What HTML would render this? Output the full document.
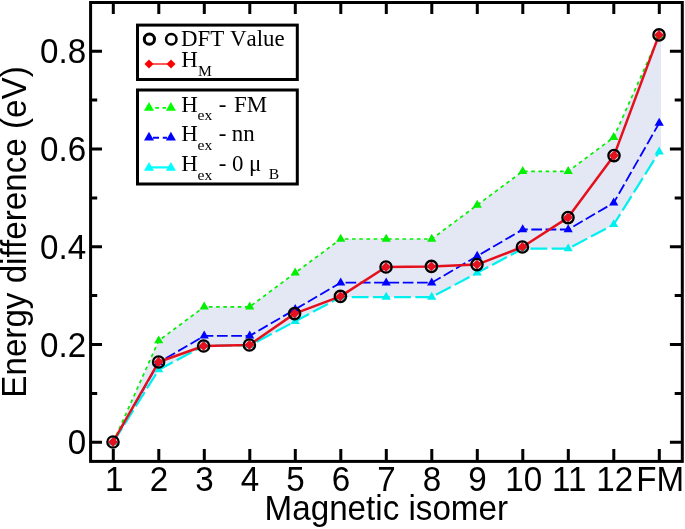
<!DOCTYPE html>
<html><head><meta charset="utf-8"><title>Energy difference vs magnetic isomer</title>
<style>html,body{margin:0;padding:0;background:#fff}svg{display:block}text{font-family:"Liberation Sans",sans-serif;fill:#000}.s{font-family:"Liberation Serif",serif;font-kerning:none}</style></head><body>
<svg width="685" height="529" viewBox="0 0 685 529">
<rect width="685" height="529" fill="#fff"/>
<polygon points="113.2,442.3 158.7,340.7 204.2,306.8 249.7,306.8 295.2,272.9 340.7,239.0 386.2,239.0 431.7,239.0 477.2,205.1 522.7,171.3 568.2,171.3 613.7,137.4 659.2,35.7 661.0,35.7 661.0,151.9 659.2,151.9 613.7,224.5 568.2,248.7 522.7,248.7 477.2,272.9 431.7,297.1 386.2,297.1 340.7,297.1 295.2,321.3 249.7,345.5 204.2,345.5 158.7,369.7 113.2,442.3" fill="#e3e8f4"/>
<polyline points="113.2,442.3 158.7,340.7 204.2,306.8 249.7,306.8 295.2,272.9 340.7,239.0 386.2,239.0 431.7,239.0 477.2,205.1 522.7,171.3 568.2,171.3 613.7,137.4 659.2,35.7" fill="none" stroke="#00f000" stroke-width="1.7" stroke-dasharray="3.6 3.6"/>
<g fill="#00f000"><path d="M113.2 437.0 L117.8 444.9 L108.6 444.9 Z"/><path d="M158.7 335.4 L163.3 343.3 L154.1 343.3 Z"/><path d="M204.2 301.5 L208.8 309.4 L199.6 309.4 Z"/><path d="M249.7 301.5 L254.3 309.4 L245.1 309.4 Z"/><path d="M295.2 267.6 L299.8 275.5 L290.6 275.5 Z"/><path d="M340.7 233.7 L345.3 241.7 L336.1 241.7 Z"/><path d="M386.2 233.7 L390.8 241.7 L381.6 241.7 Z"/><path d="M431.7 233.7 L436.3 241.7 L427.1 241.7 Z"/><path d="M477.2 199.8 L481.8 207.8 L472.6 207.8 Z"/><path d="M522.7 166.0 L527.3 173.9 L518.1 173.9 Z"/><path d="M568.2 166.0 L572.8 173.9 L563.6 173.9 Z"/><path d="M613.7 132.1 L618.3 140.0 L609.1 140.0 Z"/><path d="M659.2 30.4 L663.8 38.4 L654.6 38.4 Z"/></g>
<polyline points="113.2,442.3 158.7,362.5 204.2,335.9 249.7,335.9 295.2,309.3 340.7,282.7 386.2,282.7 431.7,282.7 477.2,256.1 522.7,229.5 568.2,229.5 613.7,202.9 659.2,123.1" fill="none" stroke="#0000ff" stroke-width="1.8" stroke-dasharray="10.7 3.6"/>
<g fill="#0000ff"><path d="M113.2 437.0 L117.8 444.9 L108.6 444.9 Z"/><path d="M158.7 357.2 L163.3 365.2 L154.1 365.2 Z"/><path d="M204.2 330.6 L208.8 338.6 L199.6 338.6 Z"/><path d="M249.7 330.6 L254.3 338.6 L245.1 338.6 Z"/><path d="M295.2 304.0 L299.8 312.0 L290.6 312.0 Z"/><path d="M340.7 277.4 L345.3 285.4 L336.1 285.4 Z"/><path d="M386.2 277.4 L390.8 285.4 L381.6 285.4 Z"/><path d="M431.7 277.4 L436.3 285.4 L427.1 285.4 Z"/><path d="M477.2 250.8 L481.8 258.8 L472.6 258.8 Z"/><path d="M522.7 224.2 L527.3 232.2 L518.1 232.2 Z"/><path d="M568.2 224.2 L572.8 232.2 L563.6 232.2 Z"/><path d="M613.7 197.6 L618.3 205.6 L609.1 205.6 Z"/><path d="M659.2 117.8 L663.8 125.8 L654.6 125.8 Z"/></g>
<polyline points="113.2,442.3 158.7,369.7 204.2,345.5 249.7,345.5 295.2,321.3 340.7,297.1 386.2,297.1 431.7,297.1 477.2,272.9 522.7,248.7 568.2,248.7 613.7,224.5 659.2,151.9" fill="none" stroke="#00f0f0" stroke-width="2.2" stroke-dasharray="16.8 4.4"/>
<g fill="#00f0f0"><path d="M113.2 437.0 L117.8 444.9 L108.6 444.9 Z"/><path d="M158.7 364.4 L163.3 372.3 L154.1 372.3 Z"/><path d="M204.2 340.2 L208.8 348.1 L199.6 348.1 Z"/><path d="M249.7 340.2 L254.3 348.1 L245.1 348.1 Z"/><path d="M295.2 316.0 L299.8 323.9 L290.6 323.9 Z"/><path d="M340.7 291.8 L345.3 299.7 L336.1 299.7 Z"/><path d="M386.2 291.8 L390.8 299.7 L381.6 299.7 Z"/><path d="M431.7 291.8 L436.3 299.7 L427.1 299.7 Z"/><path d="M477.2 267.6 L481.8 275.5 L472.6 275.5 Z"/><path d="M522.7 243.4 L527.3 251.3 L518.1 251.3 Z"/><path d="M568.2 243.4 L572.8 251.3 L563.6 251.3 Z"/><path d="M613.7 219.2 L618.3 227.1 L609.1 227.1 Z"/><path d="M659.2 146.6 L663.8 154.5 L654.6 154.5 Z"/></g>
<polyline points="113.0,442.0 158.6,362.0 203.6,346.0 249.4,345.0 294.6,313.6 340.4,296.4 386.0,267.0 431.4,266.4 477.0,264.6 522.4,247.0 568.0,217.6 614.0,155.6 659.0,34.9" fill="none" stroke="#e5101d" stroke-width="2.5" stroke-linejoin="round"/>
<g fill="#e5101d"><path d="M113.0 437.1 L117.9 442.0 L113.0 446.9 L108.1 442.0 Z"/><path d="M158.6 357.1 L163.5 362.0 L158.6 366.9 L153.7 362.0 Z"/><path d="M203.6 341.1 L208.5 346.0 L203.6 350.9 L198.7 346.0 Z"/><path d="M249.4 340.1 L254.3 345.0 L249.4 349.9 L244.5 345.0 Z"/><path d="M294.6 308.7 L299.5 313.6 L294.6 318.5 L289.7 313.6 Z"/><path d="M340.4 291.5 L345.3 296.4 L340.4 301.3 L335.5 296.4 Z"/><path d="M386.0 262.1 L390.9 267.0 L386.0 271.9 L381.1 267.0 Z"/><path d="M431.4 261.5 L436.3 266.4 L431.4 271.3 L426.5 266.4 Z"/><path d="M477.0 259.7 L481.9 264.6 L477.0 269.5 L472.1 264.6 Z"/><path d="M522.4 242.1 L527.3 247.0 L522.4 251.9 L517.5 247.0 Z"/><path d="M568.0 212.7 L572.9 217.6 L568.0 222.5 L563.1 217.6 Z"/><path d="M614.0 150.7 L618.9 155.6 L614.0 160.5 L609.1 155.6 Z"/><path d="M659.0 30.0 L663.9 34.9 L659.0 39.8 L654.1 34.9 Z"/></g>
<g fill="none" stroke="#000" stroke-width="2.3"><circle cx="113.0" cy="442.0" r="5.65"/><circle cx="158.6" cy="362.0" r="5.65"/><circle cx="203.6" cy="346.0" r="5.65"/><circle cx="249.4" cy="345.0" r="5.65"/><circle cx="294.6" cy="313.6" r="5.65"/><circle cx="340.4" cy="296.4" r="5.65"/><circle cx="386.0" cy="267.0" r="5.65"/><circle cx="431.4" cy="266.4" r="5.65"/><circle cx="477.0" cy="264.6" r="5.65"/><circle cx="522.4" cy="247.0" r="5.65"/><circle cx="568.0" cy="217.6" r="5.65"/><circle cx="614.0" cy="155.6" r="5.65"/><circle cx="659.0" cy="34.9" r="5.65"/></g>
<path d="M113.3 461.4 V449.0 M113.3 2.5 V14.0 M158.8 461.4 V449.0 M158.8 2.5 V14.0 M204.3 461.4 V449.0 M204.3 2.5 V14.0 M249.8 461.4 V449.0 M249.8 2.5 V14.0 M295.3 461.4 V449.0 M295.3 2.5 V14.0 M340.8 461.4 V449.0 M340.8 2.5 V14.0 M386.3 461.4 V449.0 M386.3 2.5 V14.0 M431.8 461.4 V449.0 M431.8 2.5 V14.0 M477.3 461.4 V449.0 M477.3 2.5 V14.0 M522.8 461.4 V449.0 M522.8 2.5 V14.0 M568.3 461.4 V449.0 M568.3 2.5 V14.0 M613.8 461.4 V449.0 M613.8 2.5 V14.0 M659.3 461.4 V449.0 M659.3 2.5 V14.0 M90.6 442.3 H102.0 M682.3 442.3 H669.9 M90.6 393.4 H97.2 M682.3 393.4 H674.7 M90.6 344.5 H102.0 M682.3 344.5 H669.9 M90.6 295.6 H97.2 M682.3 295.6 H674.7 M90.6 246.7 H102.0 M682.3 246.7 H669.9 M90.6 197.9 H97.2 M682.3 197.9 H674.7 M90.6 149.0 H102.0 M682.3 149.0 H669.9 M90.6 100.1 H97.2 M682.3 100.1 H674.7 M90.6 51.2 H102.0 M682.3 51.2 H669.9" stroke="#000" stroke-width="3.0" fill="none"/>
<rect x="90.6" y="2.5" width="591.7" height="458.9" fill="none" stroke="#000" stroke-width="3.0"/>
<text transform="translate(86.2 454.4) scale(1 1.045)" font-size="33.2" text-anchor="end">0</text>
<text transform="translate(86.2 356.6) scale(1 1.045)" font-size="33.2" text-anchor="end">0.2</text>
<text transform="translate(86.2 258.8) scale(1 1.045)" font-size="33.2" text-anchor="end">0.4</text>
<text transform="translate(86.2 161.1) scale(1 1.045)" font-size="33.2" text-anchor="end">0.6</text>
<text transform="translate(86.2 63.3) scale(1 1.045)" font-size="33.2" text-anchor="end">0.8</text>
<text transform="translate(114.2 490.6) scale(1 1.045)" font-size="33.2" text-anchor="middle">1</text>
<text transform="translate(159.0 490.6) scale(1 1.045)" font-size="33.2" text-anchor="middle">2</text>
<text transform="translate(204.5 490.6) scale(1 1.045)" font-size="33.2" text-anchor="middle">3</text>
<text transform="translate(250.0 490.6) scale(1 1.045)" font-size="33.2" text-anchor="middle">4</text>
<text transform="translate(295.5 490.6) scale(1 1.045)" font-size="33.2" text-anchor="middle">5</text>
<text transform="translate(341.0 490.6) scale(1 1.045)" font-size="33.2" text-anchor="middle">6</text>
<text transform="translate(386.5 490.6) scale(1 1.045)" font-size="33.2" text-anchor="middle">7</text>
<text transform="translate(432.0 490.6) scale(1 1.045)" font-size="33.2" text-anchor="middle">8</text>
<text transform="translate(477.5 490.6) scale(1 1.045)" font-size="33.2" text-anchor="middle">9</text>
<text transform="translate(523.7 490.6) scale(1 1.045)" font-size="33.2" text-anchor="middle">10</text>
<text transform="translate(569.2 490.6) scale(1 1.045)" font-size="33.2" text-anchor="middle">11</text>
<text transform="translate(614.7 490.6) scale(1 1.045)" font-size="33.2" text-anchor="middle">12</text>
<text transform="translate(660.2 490.6) scale(1 1.045)" font-size="33.2" text-anchor="middle">FM</text>
<text transform="translate(386.3 520.2) scale(1 1.045)" font-size="33.2" text-anchor="middle">Magnetic isomer</text>
<text transform="translate(26.4 232) rotate(-90) scale(1 1.045)" font-size="33.2" text-anchor="middle">Energy difference (eV)</text>
<rect x="137.5" y="25.1" width="159.8" height="54.4" fill="#fff" stroke="#000" stroke-width="3"/>
<rect x="137.5" y="90" width="159.8" height="94" fill="#fff" stroke="#000" stroke-width="3"/>
<g fill="none" stroke="#000"><circle cx="149.4" cy="39.2" r="5.1" stroke-width="3"/><circle cx="171.3" cy="39.2" r="5.2" stroke-width="2.5"/></g>
<path d="M149 64H171" stroke="#ff0000" stroke-width="1.3"/><g fill="#ff0000"><path d="M149.0 59.6 L153.5 64.1 L149.0 68.6 L144.5 64.1 Z"/><path d="M171.0 59.6 L175.5 64.1 L171.0 68.6 L166.5 64.1 Z"/></g>
<path d="M155.2 107.8H159M162.5 107.8H166" stroke="#00ff00" stroke-width="1.8"/><g fill="#00ff00"><path d="M149.0 102.0 L154.0 110.8 L144.0 110.8 Z"/><path d="M170.9 102.0 L175.9 110.8 L165.9 110.8 Z"/></g>
<path d="M153 137.8H159M162.8 137.8H167" stroke="#0000ff" stroke-width="2"/><g fill="#0000ff"><path d="M149.0 131.8 L154.0 140.6 L144.0 140.6 Z"/><path d="M170.9 131.8 L175.9 140.6 L165.9 140.6 Z"/></g>
<path d="M149 167.4H171" stroke="#00ffff" stroke-width="2.2"/><g fill="#00ffff"><path d="M149.0 162.0 L154.0 170.8 L144.0 170.8 Z"/><path d="M170.9 162.0 L175.9 170.8 L165.9 170.8 Z"/></g>
<g class="s" font-size="22.9">
<text class="s" x="181.0" y="46">DFT Value</text>
<text class="s" x="181.3" y="66.6">H</text><text class="s" x="198" y="75.7" font-size="15.6">M</text>
<text class="s" x="181.3" y="111.8">H</text><text class="s" x="197.6" y="120.4" font-size="15.6">ex</text><text class="s" x="218.8" y="111.8">-</text>
<text class="s" x="181.3" y="140.5">H</text><text class="s" x="197.6" y="149.5" font-size="15.6">ex</text><text class="s" x="218.8" y="140.5">-</text>
<text class="s" x="181.3" y="170.7">H</text><text class="s" x="197.6" y="179.8" font-size="15.6">ex</text><text class="s" x="218.8" y="170.7">-</text>
<text class="s" x="234" y="111.8">FM</text>
<text class="s" x="231.8" y="140.5">nn</text>
<text class="s" x="232" y="170.7">0</text><text class="s" x="249" y="170.7">μ</text><text class="s" x="268.8" y="179" font-size="15.6">B</text>
</g>
</svg></body></html>
